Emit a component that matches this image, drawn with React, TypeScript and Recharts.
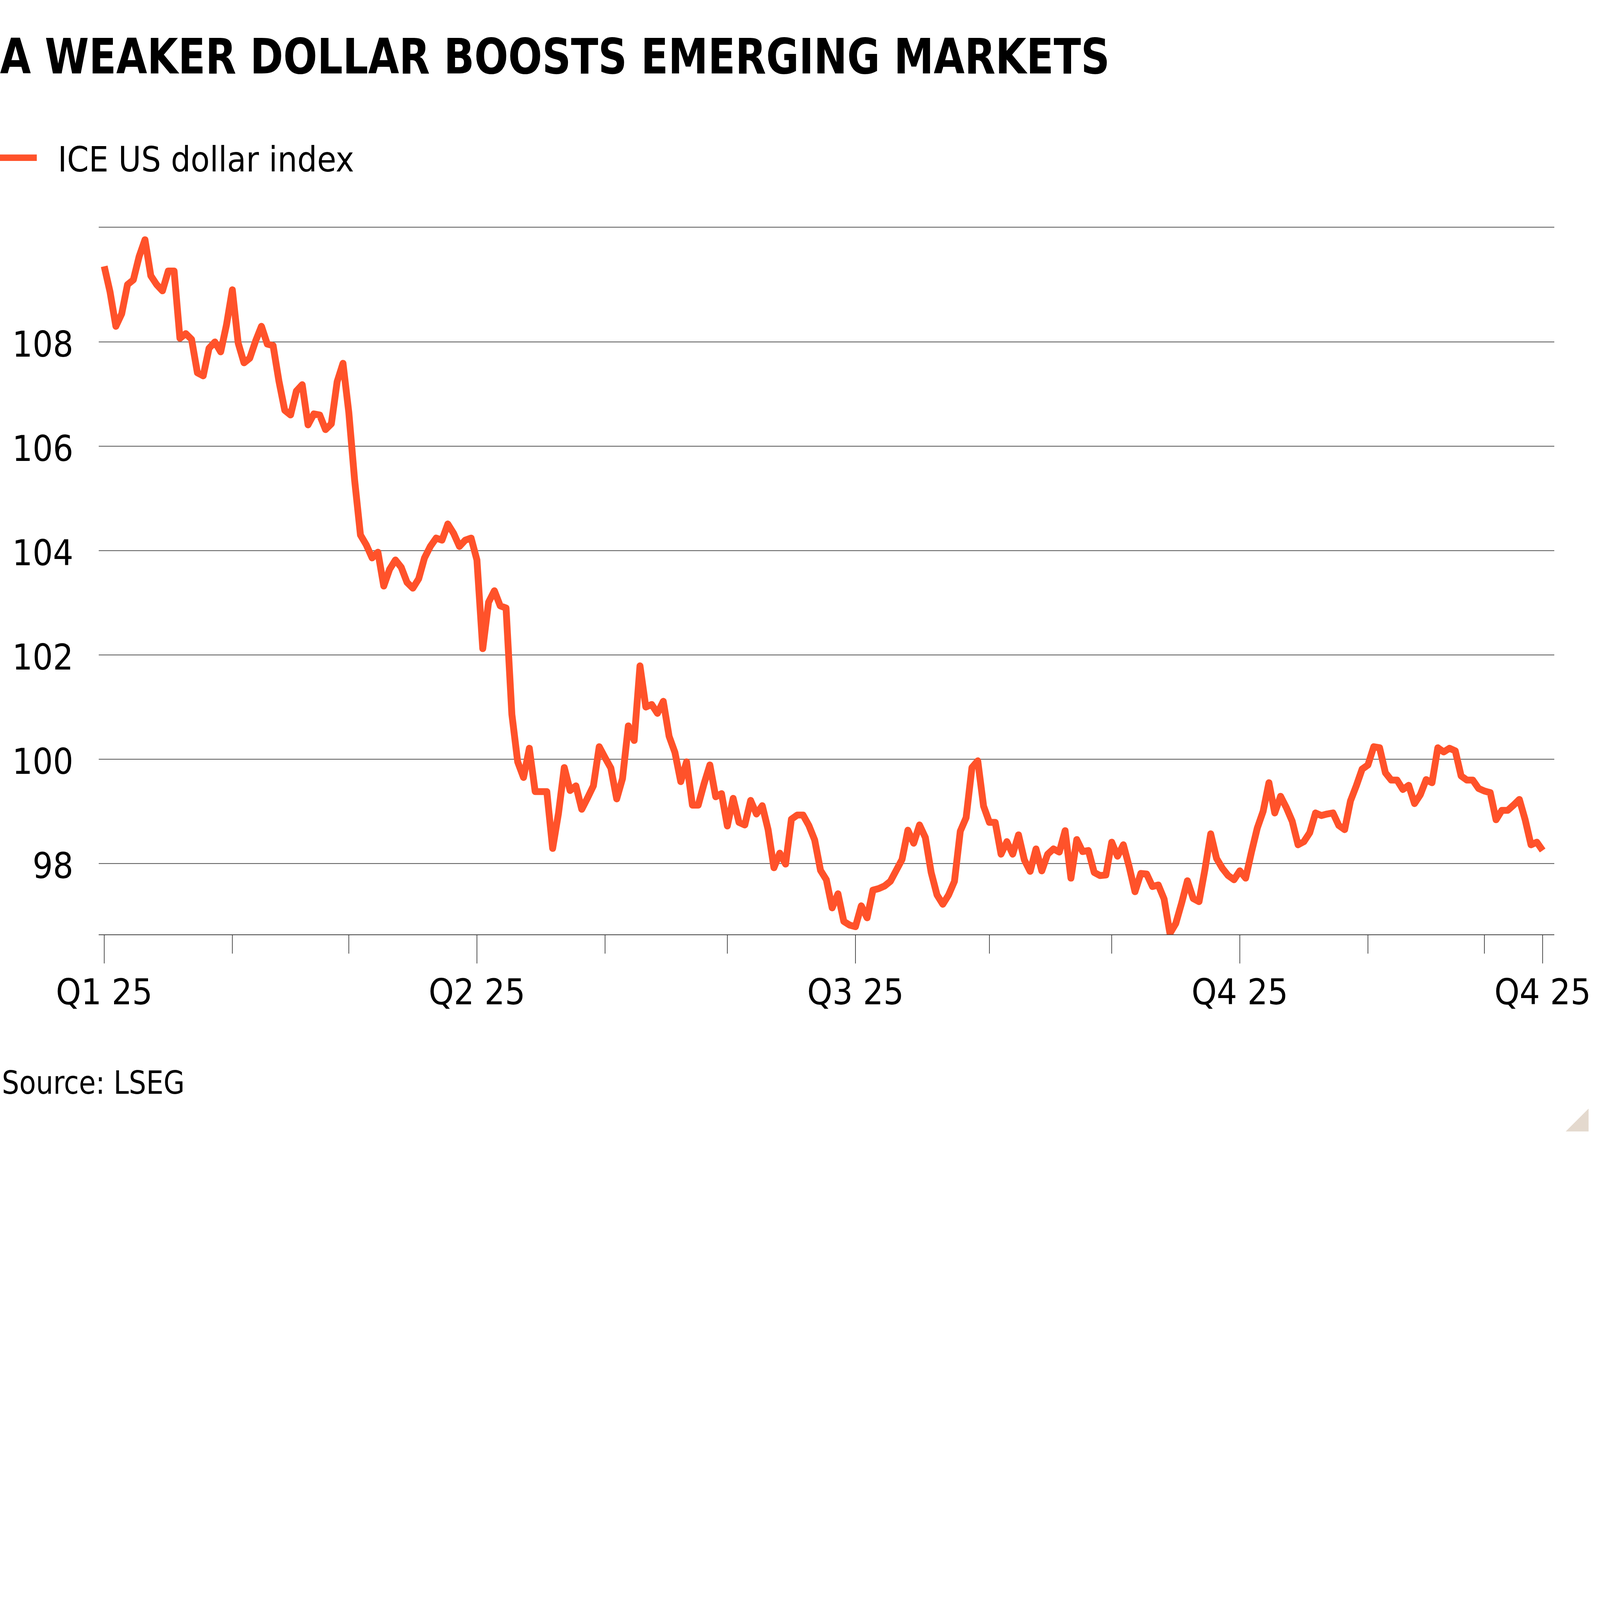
import React from 'react';
import { LineChart, Line, XAxis, YAxis, CartesianGrid } from 'recharts';

// ICE US dollar index, one value per trading day (index 0 = first trading day of 2025)
const dollarIndex: number[] = [
  109.45, 108.96, 108.30, 108.54, 109.10, 109.19, 109.64, 109.96, 109.27, 109.10,
  108.98, 109.36, 109.36, 108.07, 108.16, 108.05, 107.41, 107.35, 107.88, 108.00,
  107.81, 108.33, 109.00, 107.98, 107.60, 107.69, 108.02, 108.30, 107.96, 107.93,
  107.25, 106.69, 106.60, 107.06, 107.18, 106.41, 106.62, 106.60, 106.32, 106.43,
  107.24, 107.59, 106.65, 105.35, 104.30, 104.11, 103.86, 103.97, 103.32, 103.64,
  103.82, 103.68, 103.39, 103.28, 103.46, 103.86, 104.08, 104.24, 104.20, 104.51,
  104.33, 104.08, 104.20, 104.24, 103.82, 102.12, 103.01, 103.23, 102.94, 102.90,
  100.86, 99.95, 99.65, 100.21, 99.38, 99.38, 99.38, 98.29, 98.96, 99.84,
  99.40, 99.49, 99.04, 99.26, 99.49, 100.24, 100.03, 99.83, 99.24, 99.63,
  100.64, 100.36, 101.79, 101.00, 101.05, 100.88, 101.11, 100.44, 100.13, 99.57,
  99.95, 99.12, 99.12, 99.53, 99.89, 99.28, 99.34, 98.72, 99.25, 98.79,
  98.74, 99.21, 98.95, 99.11, 98.65, 97.92, 98.20, 97.99, 98.85, 98.93,
  98.93, 98.73, 98.45, 97.87, 97.69, 97.15, 97.42, 96.89, 96.82, 96.79,
  97.19, 96.96, 97.49, 97.52, 97.57, 97.66, 97.87, 98.08, 98.64, 98.39,
  98.74, 98.50, 97.83, 97.40, 97.22, 97.40, 97.66, 98.62, 98.88, 99.84,
  99.97, 99.10, 98.79, 98.79, 98.18, 98.42, 98.18, 98.55, 98.07, 97.85,
  98.28, 97.86, 98.18, 98.28, 98.22, 98.63, 97.72, 98.46, 98.23, 98.25,
  97.83, 97.77, 97.78, 98.41, 98.14, 98.36, 97.94, 97.46, 97.81, 97.80,
  97.56, 97.59, 97.32, 96.66, 96.85, 97.24, 97.67, 97.33, 97.27, 97.88,
  98.57, 98.10, 97.91, 97.77, 97.69, 97.86, 97.72, 98.22, 98.68, 99.00,
  99.55, 98.97, 99.29, 99.07, 98.81, 98.36, 98.42, 98.59, 98.97, 98.92,
  98.95, 98.97, 98.73, 98.65, 99.20, 99.49, 99.81, 99.89, 100.24, 100.22,
  99.74, 99.60, 99.60, 99.42, 99.50, 99.15, 99.32, 99.61, 99.55, 100.22,
  100.14, 100.21, 100.16, 99.68, 99.60, 99.60, 99.44, 99.39, 99.36, 98.84,
  99.02, 99.02, 99.12, 99.23, 98.84, 98.36, 98.41, 98.25,
];

// x-axis ticks (trading-day positions of month starts, plus the last day)
const monthTicks: number[] = [0, 22, 42, 64, 86, 107, 129, 152, 173, 195, 217, 237, 247];
const quarterTicks: number[] = [0, 64, 129, 195, 247];
const quarterLabels: string[] = ['Q1 25', 'Q2 25', 'Q3 25', 'Q4 25', 'Q4 25'];

// y-axis ticks
const yTicks: number[] = [98, 100, 102, 104, 106, 108];

const titleText = 'A WEAKER DOLLAR BOOSTS EMERGING MARKETS';
const legendText = 'ICE US dollar index';
const sourceText = 'Source: LSEG';

const LINE_COLOR = '#FF522A';
const GRID_COLOR = '#3a3a3a';
const FONT = "'DejaVu Sans Condensed', 'DejaVu Sans', sans-serif";
const TICK_FONT_SIZE = 156;

const DESIGN_W = 7000;
const DESIGN_H = 5000;

const data = dollarIndex.map((v, i) => ({ i, v }));

const XTick = (props: any) => {
  const { x, y, payload } = props;
  const value = payload.value;
  const qi = quarterTicks.indexOf(value);
  const major = qi >= 0;
  return (
    <g>
      <line x1={x} y1={y} x2={x} y2={y + (major ? 125 : 82)} stroke={GRID_COLOR} strokeWidth={3} />
      {major && (
        <text
          x={x}
          y={y + 303}
          textAnchor="middle"
          fontFamily={FONT}
          fontStretch="condensed"
          fontSize={TICK_FONT_SIZE}
          fill="#000"
        >
          {quarterLabels[qi]}
        </text>
      )}
    </g>
  );
};

const YTick = (props: any) => {
  const { x, y, payload } = props;
  return (
    <text
      x={x}
      y={y + 64}
      textAnchor="end"
      fontFamily={FONT}
      fontStretch="condensed"
      fontSize={TICK_FONT_SIZE}
      fill="#000"
    >
      {payload.value}
    </text>
  );
};

export default function App() {
  const vw = typeof window !== 'undefined' && window.innerWidth ? window.innerWidth : DESIGN_W;
  const vh = typeof window !== 'undefined' && window.innerHeight ? window.innerHeight : DESIGN_H;
  const k = Math.min(1, vw / DESIGN_W, vh / DESIGN_H);
  return (
    <div
      style={{
        position: 'absolute',
        left: 0,
        top: 0,
        width: DESIGN_W * k,
        height: DESIGN_H * k,
        overflow: 'hidden',
        background: '#fff',
      }}
    >
      <div
        style={{
          position: 'absolute',
          left: 0,
          top: 0,
          width: DESIGN_W,
          height: DESIGN_H,
          background: '#fff',
          transform: `scale(${k})`,
          transformOrigin: '0 0',
        }}
      >
        <div style={{ position: 'absolute', left: 0, top: 0 }}>
          <LineChart
            width={DESIGN_W}
            height={4540}
            data={data}
            margin={{ top: 994, right: 200, bottom: 0, left: 0 }}
            style={{ overflow: 'visible' }}
          >
            <CartesianGrid vertical={false} stroke={GRID_COLOR} strokeWidth={3} />
            <XAxis
              dataKey="i"
              type="number"
              domain={[-0.94, 249]}
              ticks={monthTicks}
              interval={0}
              allowDataOverflow
              height={450}
              tickSize={0}
              tickMargin={0}
              tickLine={false}
              axisLine={{ stroke: GRID_COLOR, strokeWidth: 3 }}
              tick={(p: any) => <XTick {...p} />}
            />
            <YAxis
              type="number"
              domain={[96.633, 110.2]}
              ticks={yTicks}
              interval={0}
              allowDataOverflow
              width={432}
              tickSize={0}
              tickMargin={111}
              tickLine={false}
              axisLine={false}
              tick={(p: any) => <YTick {...p} />}
            />
            <Line
              type="linear"
              dataKey="v"
              stroke={LINE_COLOR}
              strokeWidth={30}
              strokeLinejoin="round"
              strokeLinecap="butt"
              dot={false}
              activeDot={false}
              isAnimationActive={false}
            />
          </LineChart>
        </div>
        <svg
          width={DESIGN_W}
          height={DESIGN_H}
          style={{ position: 'absolute', left: 0, top: 0, pointerEvents: 'none' }}
        >
          <text
            x={0}
            y={321}
            fontFamily={FONT}
            fontStretch="condensed"
            fontWeight="bold"
            fontSize={213}
            fill="#000"
            textLength={4855}
            lengthAdjust="spacingAndGlyphs"
          >
            {titleText}
          </text>
          <line x1={0} y1={690} x2={161} y2={690} stroke={LINE_COLOR} strokeWidth={28} />
          <text
            x={253}
            y={750}
            fontFamily={FONT}
            fontStretch="condensed"
            fontSize={152}
            fill="#000"
            textLength={1296}
            lengthAdjust="spacingAndGlyphs"
          >
            {legendText}
          </text>
          <text
            x={8}
            y={4786}
            fontFamily={FONT}
            fontStretch="condensed"
            fontSize={139}
            fill="#000"
            textLength={800}
            lengthAdjust="spacingAndGlyphs"
          >
            {sourceText}
          </text>
          <polygon points="6850,4950 6950,4850 6950,4950" fill="#E4D9CE" />
        </svg>
      </div>
    </div>
  );
}
